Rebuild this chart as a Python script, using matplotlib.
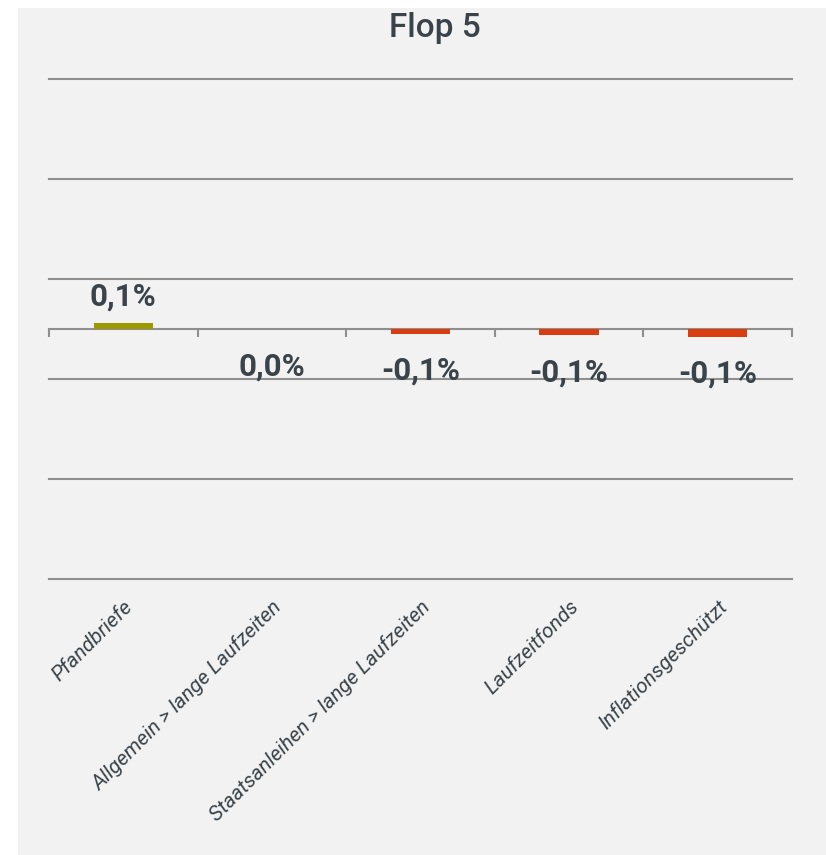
import numpy as np
import matplotlib
matplotlib.use("Agg")
from matplotlib import pyplot as plt
from matplotlib.patches import Rectangle

categories = ["Pfandbriefe", "Allgemein > lange Laufzeiten", "Staatsanleihen > lange Laufzeiten",
              "Laufzeitfonds", "Inflationsgeschützt"]
values = [0.08, -0.004, -0.06, -0.085, -0.1]
value_labels = ["0,1%", "0,0%", "-0,1%", "-0,1%", "-0,1%"]

pos_color = "#9c9a00"
neg_color = "#d83e12"
text_color = "#3a4349"
grid_color = "#8f8f8f"

fig = plt.figure(figsize=(8.26, 8.55), dpi=100)
fig.patch.set_facecolor("white")
bg = Rectangle((18 / 826, 0), 1, 1 - 8 / 855, transform=fig.transFigure,
               facecolor="#f2f2f2", edgecolor="none", zorder=-10)
fig.patches.append(bg)

ax = fig.add_axes([49 / 826, 1 - 579 / 855, (792 - 49) / 826, 500 / 855])
ax.set_facecolor("none")

ymax = 3.333
ax.set_ylim(-ymax, ymax)
ax.set_xlim(-0.5, len(categories) - 0.5)

x = np.arange(len(categories))
colors = [pos_color if v > 0 else neg_color for v in values]
ax.bar(x, values, width=0.4, color=colors, zorder=3)

ax.set_yticks(np.linspace(-ymax, ymax, 6))
ax.yaxis.grid(True, color=grid_color, linewidth=1.5)
for gl in ax.get_ygridlines():
    gl.set_clip_on(False)
ax.tick_params(axis="y", left=False, labelleft=False)
ax.set_axisbelow(True)
for s in ax.spines.values():
    s.set_visible(False)

# category labels below the plot
ax.set_xticks(x)
ax.set_xticklabels(categories, rotation=45, ha="right", va="top", rotation_mode="anchor",
                   fontsize=15, family="Roboto", style="italic", color=text_color)
ax.tick_params(axis="x", length=0, pad=13)

# zero line with separators
zero = ax.secondary_xaxis(0.5)
zero.set_xticks(np.arange(len(categories) + 1) - 0.5)
zero.tick_params(axis="x", which="both", direction="out", length=6, width=1.5, color=grid_color,
                 labelbottom=False, labeltop=False, top=False, bottom=True)
for s in zero.spines.values():
    s.set_color(grid_color)
    s.set_linewidth(1.5)

for xi, v, lab in zip(x, values, value_labels):
    if v > 0:
        ax.annotate(lab, (xi, v), xytext=(0, 8), textcoords="offset points", ha="center",
                    va="bottom", fontsize=22.5, weight="bold", family="Roboto", color=text_color)
    else:
        ax.annotate(lab, (xi, v), xytext=(0, -16), textcoords="offset points", ha="center",
                    va="top", fontsize=22.5, weight="bold", family="Roboto", color=text_color)

fig.text(435 / 826, 1 - 28 / 855, "Flop 5", ha="center", va="center", fontsize=24,
         family="Roboto", weight="medium", color=text_color)

fig.savefig("out.png", dpi=100, facecolor=fig.get_facecolor())
